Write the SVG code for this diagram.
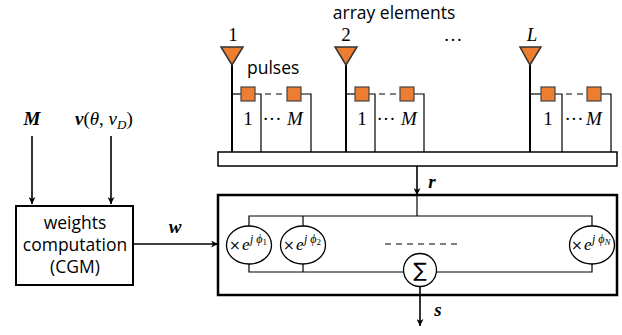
<svg xmlns="http://www.w3.org/2000/svg" width="622" height="335" viewBox="0 0 622 335">
<style>
.sans{font-family:"Open Sans","Liberation Sans",sans-serif;font-size:17.5px;fill:#000}
.math{font-family:"Liberation Serif","DejaVu Serif",serif;font-size:19px;fill:#000}
.mi{font-style:italic}
.mb{font-style:italic;font-weight:bold}
.ell{font-family:"Liberation Serif","DejaVu Serif",serif;font-size:17px;fill:#000}
.x{font-family:"DejaVu Sans",sans-serif;font-size:14px}
.sup{font-size:12px;font-style:italic}
.sub{font-size:9px}
.tri{fill:#ED7D31;stroke:#333;stroke-width:1.5;stroke-linejoin:miter}
.sq{fill:#ED7D31;stroke:#444;stroke-width:1.2}
.mast{stroke:#000;stroke-width:2;fill:none}
.thin{stroke:#000;stroke-width:1.2;fill:none}
.dash{stroke:#000;stroke-width:1.2;stroke-dasharray:6,5;fill:none}
.box{fill:none;stroke:#000;stroke-width:2.5}
.arr{stroke:#000;stroke-width:1.6;fill:none;marker-end:url(#ah)}
</style>
<defs>
<marker id="ah" viewBox="0 0 10 10" refX="10" refY="5" markerWidth="7" markerHeight="7" markerUnits="userSpaceOnUse" orient="auto">
<path d="M0,0 L10,5 L0,10 L3,5 Z" fill="#000"/>
</marker>
</defs>

<text class="sans" x="394" y="19" text-anchor="middle">array elements</text>
<text class="sans" x="247" y="74">pulses</text>
<text class="math" x="453" y="41" text-anchor="middle">…</text>

<g id="bar">
<rect x="218" y="152" width="399" height="14" fill="#fff" stroke="#000" stroke-width="1.5"/>
</g>

<g id="element1">
<text class="math" x="233" y="41" text-anchor="middle">1</text>
<line class="mast" x1="232" y1="62" x2="232" y2="152"/>
<polygon class="tri" points="221,47 243,47 232,65"/>
<polyline class="thin" points="232,94 241,94"/>
<polyline class="thin" points="255,94 261,94 261,152"/>
<line class="dash" x1="265" y1="94" x2="287" y2="94"/>
<polyline class="thin" points="301,94 311,94 311,152"/>
<rect class="sq" x="241" y="87" width="14" height="14"/>
<rect class="sq" x="287" y="87" width="14" height="14"/>
<text class="math" x="248" y="125" text-anchor="middle">1</text>
<text class="math" x="272" y="125" text-anchor="middle" font-size="14">···</text>
<text class="math mi" x="295" y="125" text-anchor="middle">M</text>
</g>

<g id="element2">
<text class="math" x="346" y="41" text-anchor="middle">2</text>
<line class="mast" x1="346" y1="62" x2="346" y2="152"/>
<polygon class="tri" points="335,47 357,47 346,65"/>
<polyline class="thin" points="346,94 355,94"/>
<polyline class="thin" points="369,94 375,94 375,152"/>
<line class="dash" x1="379" y1="94" x2="400" y2="94"/>
<polyline class="thin" points="414,94 424,94 424,152"/>
<rect class="sq" x="355" y="87" width="14" height="14"/>
<rect class="sq" x="400" y="87" width="14" height="14"/>
<text class="math" x="362" y="125" text-anchor="middle">1</text>
<text class="math" x="386" y="125" text-anchor="middle" font-size="14">···</text>
<text class="math mi" x="409" y="125" text-anchor="middle">M</text>
</g>

<g id="elementL">
<text class="math mi" x="532" y="41" text-anchor="middle">L</text>
<line class="mast" x1="530" y1="62" x2="530" y2="152"/>
<polygon class="tri" points="520,47 541,47 530,65"/>
<polyline class="thin" points="530,94 541,94"/>
<polyline class="thin" points="555,94 562,94 562,152"/>
<line class="dash" x1="566" y1="94" x2="587" y2="94"/>
<polyline class="thin" points="601,94 611,94 611,152"/>
<rect class="sq" x="541" y="87" width="14" height="14"/>
<rect class="sq" x="587" y="87" width="14" height="14"/>
<text class="math" x="548" y="125" text-anchor="middle">1</text>
<text class="math" x="574" y="125" text-anchor="middle" font-size="14">···</text>
<text class="math mi" x="594" y="125" text-anchor="middle">M</text>
</g>

<g id="inputs">
<text class="math mb" x="32" y="125" text-anchor="middle">M</text>
<text class="math" x="75" y="125"><tspan class="mb">v</tspan>(<tspan class="mi">θ</tspan>, <tspan class="mi">ν</tspan><tspan class="mi" font-size="13" dy="4">D</tspan><tspan dy="-4">)</tspan></text>
</g>

<g id="weights">
<rect x="16" y="206" width="117" height="79" fill="#fff" stroke="#000" stroke-width="2"/>
<text class="sans" x="75" y="229" text-anchor="middle">weights</text>
<text class="sans" x="75" y="251" text-anchor="middle">computation</text>
<text class="sans" x="75" y="273" text-anchor="middle">(CGM)</text>
</g>

<g id="beamformer">
<rect class="box" x="218" y="195" width="399" height="100"/>
<polyline class="thin" points="249,226 249,216 592,216 592,226"/>
<line class="thin" x1="303" y1="216" x2="303" y2="226"/>
<line class="thin" x1="417" y1="195" x2="417" y2="216"/>
<polyline class="thin" points="249,264 249,272 404,272"/>
<line class="thin" x1="303" y1="264" x2="303" y2="272"/>
<polyline class="thin" points="436,272 592,272 592,264"/>
<line class="dash" x1="385" y1="244" x2="460" y2="244"/>
</g>

<g id="mult1">
<ellipse cx="249" cy="245" rx="22.5" ry="19" fill="#fff" stroke="#000" stroke-width="1.3"/>
<text class="ell" y="250"><tspan class="x" x="229">×</tspan><tspan class="mi" x="242">e</tspan><tspan class="sup" x="250" y="243">j ϕ</tspan><tspan class="sub" y="245">1</tspan></text>
</g>
<g id="mult2">
<ellipse cx="303" cy="245" rx="22.5" ry="19" fill="#fff" stroke="#000" stroke-width="1.3"/>
<text class="ell" y="250"><tspan class="x" x="283">×</tspan><tspan class="mi" x="296">e</tspan><tspan class="sup" x="304" y="243">j ϕ</tspan><tspan class="sub" y="245">2</tspan></text>
</g>
<g id="multN">
<ellipse cx="592" cy="245" rx="22.5" ry="19" fill="#fff" stroke="#000" stroke-width="1.3"/>
<text class="ell" y="250"><tspan class="x" x="571">×</tspan><tspan class="mi" x="584">e</tspan><tspan class="sup" x="592" y="243">j ϕ</tspan><tspan class="sub mi" y="245">N</tspan></text>
</g>
<g id="sum">
<circle cx="420" cy="270" r="16.5" fill="#fff" stroke="#000" stroke-width="1.3"/>
<text x="420" y="277" text-anchor="middle" font-family="DejaVu Sans, sans-serif" font-size="20">∑</text>
</g>

<g id="connectors">
<line class="arr" x1="32" y1="136" x2="32" y2="204"/>
<line class="arr" x1="111" y1="136" x2="111" y2="204"/>
<line class="arr" x1="134" y1="244" x2="218" y2="244"/>
<line class="arr" x1="417" y1="166" x2="417" y2="195"/>
<line class="arr" x1="420" y1="287" x2="420" y2="326"/>
</g>
<text class="math mb" x="175" y="233" text-anchor="middle">w</text>
<text class="math mb" x="432" y="188" text-anchor="middle">r</text>
<text class="math mb" x="438" y="316" text-anchor="middle">s</text>
</svg>
